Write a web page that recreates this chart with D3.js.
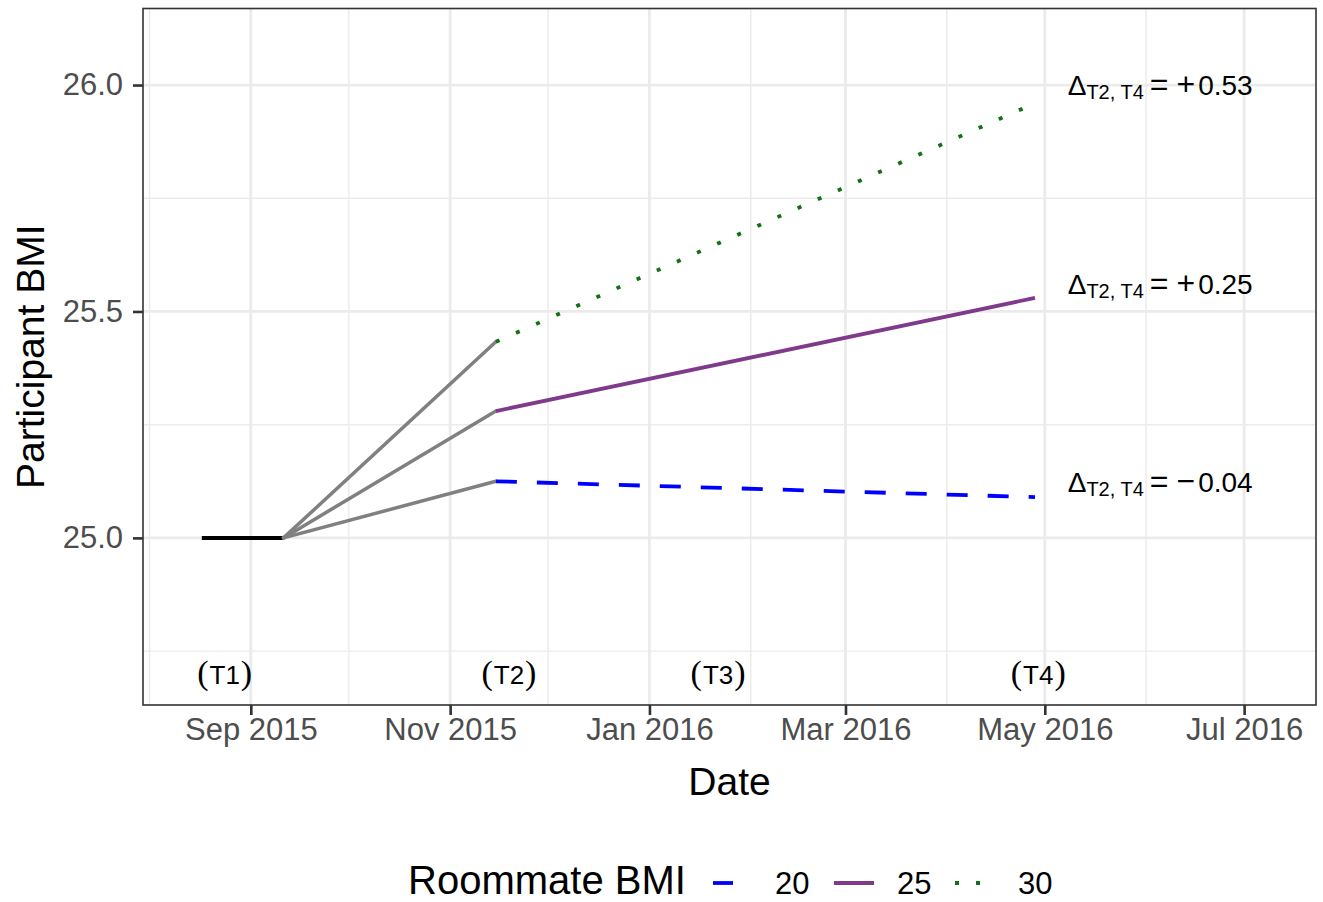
<html>
<head>
  <meta charset="utf-8"/>
  <title>Participant BMI</title>
  <style>
    body { margin: 0; background: #fff; }
    svg { font-family: "Liberation Sans", Arial, sans-serif; }
  </style>
</head>
<body>
  <div id="chart"></div>
  <script src="https://cdn.jsdelivr.net/npm/d3@7"></script>
  <script>

  // time points and values
  var baseDates = ["2015-08-17", "2015-09-11"];
  var baseValue = 25.0;
  var t2Date = "2015-11-15";
  var t4Date = "2016-04-28";
  var roommateBMI = ["20", "25", "30"];
  var t2Values = [25.125, 25.28, 25.433];
  var t4Values = [25.09, 25.53, 25.96];
  var deltaSign = ["\u2212", "+", "+"];
  var deltaNum = ["0.04", "0.25", "0.53"];
  var deltaY = [25.124, 25.56, 26.0];
  var deltaDate = "2016-05-08";
  var phaseLabels = ["T1", "T2", "T3", "T4"];
  var phaseDates = ["2015-08-24", "2015-11-19", "2016-01-22", "2016-04-29"];
  var phaseY = 24.698;
  var xTicks = ["2015-09-01", "2015-11-01", "2016-01-01", "2016-03-01", "2016-05-01", "2016-07-01"];
  var xMinor = ["2015-08-01", "2015-10-01", "2015-12-01", "2016-02-01", "2016-04-01", "2016-06-01"];
  var yTicks = [25.0, 25.5, 26.0];
  var yMinor = [24.75, 25.25, 25.75];

  var colors = ["#0000FF", "#7F3A8B", "#157015"];
  var dashes = ["21,20", null, "4,18"];

  var parse = d3.timeParse("%Y-%m-%d");
  var W = 1323, H = 902;
  var pLeft = 143, pRight = 1316, pTop = 8.5, pBottom = 705;

  var x = d3.scaleTime()
    .domain([parse("2015-07-30"), parse("2016-07-23")])
    .range([pLeft, pRight]);
  var y = d3.scaleLinear()
    .domain([24.631, 26.169])
    .range([pBottom, pTop]);

  var svg = d3.select("#chart").append("svg")
    .attr("width", W)
    .attr("height", H);

  svg.append("rect").attr("width", W).attr("height", H).attr("fill", "#fff");

  //grid lines:
  var grid = svg.append("g");
  function hLine(v, w){
    grid.append("line").attr("x1", pLeft).attr("x2", pRight)
      .attr("y1", y(v)).attr("y2", y(v))
      .attr("stroke", "#EBEBEB").attr("stroke-width", w);
  }
  function vLine(d, w){
    grid.append("line").attr("x1", x(parse(d))).attr("x2", x(parse(d)))
      .attr("y1", pTop).attr("y2", pBottom)
      .attr("stroke", "#EBEBEB").attr("stroke-width", w);
  }
  yMinor.forEach(function (v){ hLine(v, 1.4); });
  xMinor.forEach(function (d){ vLine(d, 1.4); });
  yTicks.forEach(function (v){ hLine(v, 2.8); });
  xTicks.forEach(function (d){ vLine(d, 2.8); });

  var line = d3.line()
    .x(function (d){ return x(parse(d[0])); })
    .y(function (d){ return y(d[1]); });

  //baseline T1 segment:
  svg.append("path")
    .attr("d", line([[baseDates[0], baseValue], [baseDates[1], baseValue]]))
    .attr("stroke", "#000").attr("stroke-width", 4).attr("fill", "none");

  //gray lines T1 -> T2:
  t2Values.forEach(function (v){
    svg.append("path")
      .attr("d", line([[baseDates[1], baseValue], [t2Date, v]]))
      .attr("stroke", "#808080").attr("stroke-width", 3.5)
      .attr("fill", "none").attr("stroke-linecap", "round");
  });

  //coloured lines T2 -> T4:
  roommateBMI.forEach(function (r, i){
    svg.append("path")
      .attr("d", line([[t2Date, t2Values[i]], [t4Date, t4Values[i]]]))
      .attr("stroke", colors[i]).attr("stroke-width", 3.8)
      .attr("stroke-dasharray", dashes[i])
      .attr("fill", "none");
  });

  //delta annotations:
  deltaY.forEach(function (v, i){
    var t = svg.append("text")
      .attr("x", x(parse(deltaDate)))
      .attr("y", y(v) + 10)
      .attr("font-size", 28)
      .attr("fill", "#000");
    t.append("tspan").text("\u0394");
    t.append("tspan").attr("font-size", 20).attr("dy", 4).text("T2, T4");
    t.append("tspan").attr("dy", -4).attr("dx", 6).attr("font-size", 32).text("=");
    t.append("tspan").attr("dx", 8).attr("font-size", 32).text(deltaSign[i]);
    t.append("tspan").attr("dx", 3).text(deltaNum[i]);
  });

  //T labels:
  phaseLabels.forEach(function (lab, i){
    var t = svg.append("text")
      .attr("x", x(parse(phaseDates[i])))
      .attr("y", y(phaseY) + 9)
      .attr("text-anchor", "middle")
      .attr("font-size", 34)
      .attr("fill", "#000");
    t.append("tspan").attr("font-family", "Liberation Serif").text("(");
    t.append("tspan").attr("font-size", 26).attr("dx", 1).text(lab);
    t.append("tspan").attr("font-family", "Liberation Serif").attr("dx", 1).text(")");
  });

  //panel border:
  svg.append("rect")
    .attr("x", pLeft).attr("y", pTop)
    .attr("width", pRight - pLeft).attr("height", pBottom - pTop)
    .attr("fill", "none").attr("stroke", "#333333").attr("stroke-width", 1.6);

  //axes:
  var xAxis = svg.append("g")
    .attr("transform", "translate(0," + pBottom + ")")
    .call(d3.axisBottom(x)
      .tickValues(xTicks.map(parse))
      .tickFormat(d3.timeFormat("%b %Y"))
      .tickSize(10).tickPadding(3));
  var yAxis = svg.append("g")
    .attr("transform", "translate(" + pLeft + ",0)")
    .call(d3.axisLeft(y)
      .tickValues(yTicks)
      .tickFormat(d3.format(".1f"))
      .tickSize(10).tickPadding(10));
  [xAxis, yAxis].forEach(function (a){
    a.select(".domain").remove();
    a.selectAll(".tick line").attr("stroke", "#333333").attr("stroke-width", 2.6);
    a.selectAll(".tick text")
      .attr("fill", "#4D4D4D")
      .attr("font-size", 31)
      .attr("font-family", "Liberation Sans, Arial, sans-serif");
  });

  //axis titles:
  svg.append("text")
    .attr("x", (pLeft + pRight) / 2).attr("y", 795)
    .attr("text-anchor", "middle").attr("font-size", 39)
    .text("Date");
  svg.append("text")
    .attr("transform", "translate(44," + ((pTop + pBottom) / 2) + ") rotate(-90)")
    .attr("text-anchor", "middle").attr("font-size", 39)
    .text("Participant BMI");

  //legend:
  var lg = svg.append("g");
  lg.append("text").attr("x", 408).attr("y", 894).attr("font-size", 40).text("Roommate BMI");
  var keyX = [713, 834, 955];
  var labX = [775, 897, 1018];
  roommateBMI.forEach(function (r, i){
    lg.append("line")
      .attr("x1", keyX[i]).attr("x2", keyX[i] + 40)
      .attr("y1", 883).attr("y2", 883)
      .attr("stroke", colors[i]).attr("stroke-width", 3.8)
      .attr("stroke-dasharray", i == 0 ? "20,20" : (i == 2 ? "4,17" : null));
    lg.append("text").attr("x", labX[i]).attr("y", 894)
      .attr("font-size", 31).text(r);
  });

  </script>
</body>
</html>
